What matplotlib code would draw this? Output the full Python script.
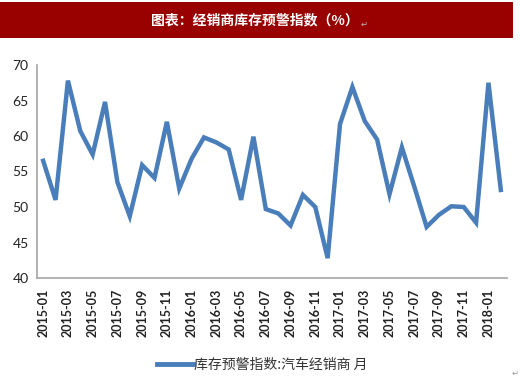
import matplotlib
matplotlib.use("Agg")
import matplotlib.pyplot as plt
from matplotlib.patches import Rectangle
from matplotlib.lines import Line2D

months = ["2015-01","2015-02","2015-03","2015-04","2015-05","2015-06","2015-07","2015-08","2015-09","2015-10","2015-11","2015-12",
          "2016-01","2016-02","2016-03","2016-04","2016-05","2016-06","2016-07","2016-08","2016-09","2016-10","2016-11","2016-12",
          "2017-01","2017-02","2017-03","2017-04","2017-05","2017-06","2017-07","2017-08","2017-09","2017-10","2017-11","2017-12",
          "2018-01","2018-02"]
values = [56.5, 51.0, 67.8, 60.7, 57.4, 64.8, 53.5, 48.7, 55.9, 54.1, 62.0, 52.6,
          56.8, 59.8, 59.1, 58.1, 51.0, 59.9, 49.7, 49.1, 47.4, 51.7, 50.0, 42.8,
          61.7, 66.9, 62.1, 59.5, 51.8, 58.4, 52.9, 47.2, 48.9, 50.1, 50.0, 47.8,
          67.5, 52.4]
yticks = [40, 45, 50, 55, 60, 65, 70]
title = "图表：经销商库存预警指数（%）"
legend_label = "库存预警指数:汽车经销商 月"

plt.rcParams['font.family'] = ['Noto Sans CJK SC', 'DejaVu Sans']

W, H = 520, 379
fig = plt.figure(figsize=(W/100, H/100), dpi=100)

# title banner
fig.patches.append(Rectangle((0, 1 - 38/H), 513/W, 36/H, transform=fig.transFigure,
                             facecolor="#990000", edgecolor="none"))
fig.text(255/W, 1 - 20/H, title, color="white", fontsize=10, fontweight="bold",
         ha="center", va="center")
fig.text(361/W, 1 - 24/H, "↵", color="#bbbbbb", fontsize=6, ha="left", va="center",
         family=['DejaVu Sans'])
fig.text(512/W, 1 - 373/H, "↵", color="#999999", fontsize=6, ha="left", va="center",
         family=['DejaVu Sans'])

ax = fig.add_axes([37/W, 1 - 278/H, (507-37)/W, (278-65)/H])
x = list(range(len(months)))
ax.plot(x, values, color="#4a7ebb", lw=3.2, solid_joinstyle="miter")
ax.set_xlim(-0.5, len(months) - 0.5)
ax.set_ylim(40, 70)
ax.set_yticks(yticks)
ax.set_yticklabels([str(v) for v in yticks], fontsize=10, family=['Lato', 'DejaVu Sans'])
ax.set_xticks(x[::2])
ax.set_xticklabels(months[::2], rotation=90, fontsize=9, family=['Lato', 'DejaVu Sans'],
                   fontweight="bold")
for s in ["top", "right"]:
    ax.spines[s].set_visible(False)
for s in ["left", "bottom"]:
    ax.spines[s].set_color("#a6a6a6")
    ax.spines[s].set_linewidth(1.2)
ax.tick_params(axis="both", length=0, pad=6, colors="#222222")
ax.tick_params(axis="x", pad=8)

handle = Line2D([], [], color="#4a7ebb", lw=3.5)
fig.legend([handle], [legend_label], loc="center", bbox_to_anchor=(262/W, 1 - 365/H),
           frameon=False, fontsize=10, handlelength=2.6, handletextpad=0.1,
           labelcolor="#333333")

fig.savefig("out.png", dpi=100)
